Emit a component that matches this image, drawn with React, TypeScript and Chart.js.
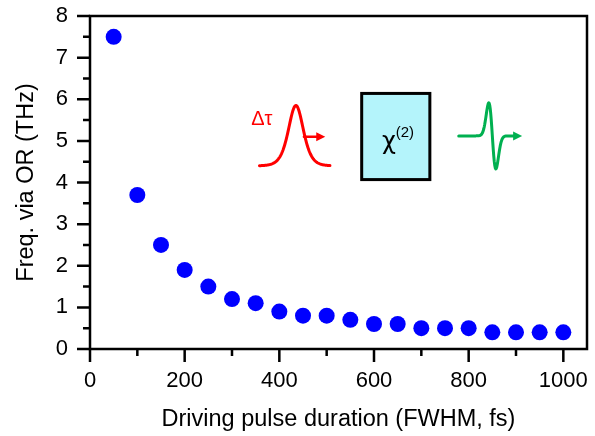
import React, { useEffect, useRef } from 'react';
import { Chart, registerables } from 'chart.js';

Chart.register(...registerables);

// Driving pulse duration (FWHM, fs)
const durations = [50, 100, 150, 200, 250, 300, 350, 400, 450, 500, 550, 600, 650, 700, 750, 800, 850, 900, 950, 1000];
// Frequency via optical rectification (THz)
const frequencies = [7.5, 3.7, 2.5, 1.9, 1.5, 1.2, 1.1, 0.9, 0.8, 0.8, 0.7, 0.6, 0.6, 0.5, 0.5, 0.5, 0.4, 0.4, 0.4, 0.4];

const xRange = [0, 1050];
const yRange = [0, 8];
const xTickValues = [0, 100, 200, 300, 400, 500, 600, 700, 800, 900, 1000];
const xLabelValues = [0, 200, 400, 600, 800, 1000];
const yTickValues = [0, 0.5, 1, 1.5, 2, 2.5, 3, 3.5, 4, 4.5, 5, 5.5, 6, 6.5, 7, 7.5, 8];
const yLabelValues = [0, 1, 2, 3, 4, 5, 6, 7, 8];

const xTitle = 'Driving pulse duration (FWHM, fs)';
const yTitle = 'Freq. via OR (THz)';
const pulseLabel = 'Δτ';
const chiLabel = 'χ';
const chiSup = '(2)';

const FONT = "'Liberation Sans', Arial, sans-serif";

const framePlugin = {
  id: 'frameTicks',
  afterDraw(chart: any) {
    const { ctx, chartArea: a, scales } = chart;
    const xs = scales.x;
    const ys = scales.y;
    ctx.save();
    ctx.strokeStyle = '#000';
    ctx.lineWidth = 2.5;
    ctx.lineCap = 'butt';
    ctx.beginPath();
    xTickValues.forEach((v) => {
      const px = xs.getPixelForValue(v);
      const len = xLabelValues.includes(v) ? 13 : 7;
      ctx.moveTo(px, a.bottom);
      ctx.lineTo(px, a.bottom + len);
    });
    yTickValues.forEach((v) => {
      const py = ys.getPixelForValue(v);
      const len = yLabelValues.includes(v) ? 13 : 7;
      ctx.moveTo(a.left, py);
      ctx.lineTo(a.left - len, py);
    });
    ctx.stroke();
    ctx.strokeRect(a.left, a.top, a.right - a.left, a.bottom - a.top);
    ctx.restore();
  },
};

const insetPlugin = {
  id: 'inset',
  afterDatasetsDraw(chart: any) {
    const { ctx, scales } = chart;
    const X = (v: number) => scales.x.getPixelForValue(v);
    const Y = (v: number) => scales.y.getPixelForValue(v);
    ctx.save();
    ctx.lineJoin = 'round';
    ctx.lineCap = 'round';

    // red driving pulse
    const red = '#ff0000';
    const rc = X(435), rb = Y(4.4), rh = rb - Y(5.85);
    const rl = X(358), rr = X(507);
    ctx.strokeStyle = red;
    ctx.lineWidth = 3;
    ctx.beginPath();
    for (let px = rl; px <= rr; px += 0.5) {
      const u = (px - rc) / 10;
      const s = 1 / Math.cosh(u);
      const py = rb - rh * s * s;
      if (px === rl) ctx.moveTo(px, py); else ctx.lineTo(px, py);
    }
    ctx.stroke();
    const ay = Y(5.1);
    const ax0 = X(452), ax1 = X(497);
    ctx.lineWidth = 2.5;
    ctx.beginPath();
    ctx.moveTo(ax0, ay);
    ctx.lineTo(ax1 - 6, ay);
    ctx.stroke();
    ctx.fillStyle = red;
    ctx.beginPath();
    ctx.moveTo(ax1, ay);
    ctx.lineTo(ax1 - 9, ay - 4.5);
    ctx.lineTo(ax1 - 9, ay + 4.5);
    ctx.closePath();
    ctx.fill();
    ctx.font = `20px ${FONT}`;
    ctx.textAlign = 'center';
    ctx.textBaseline = 'middle';
    ctx.fillText(pulseLabel, X(363), Y(5.52));

    // crystal box
    const bx0 = X(574), bx1 = X(718), by0 = Y(6.14), by1 = Y(4.07);
    ctx.fillStyle = '#b4f4fb';
    ctx.fillRect(bx0, by0, bx1 - bx0, by1 - by0);
    ctx.strokeStyle = '#000';
    ctx.lineWidth = 3;
    ctx.lineJoin = 'miter';
    ctx.strokeRect(bx0, by0, bx1 - bx0, by1 - by0);
    ctx.fillStyle = '#000';
    ctx.textAlign = 'left';
    ctx.textBaseline = 'alphabetic';
    ctx.font = `24px 'DejaVu Sans', sans-serif`;
    ctx.fillText(chiLabel, X(617), Y(4.8));
    ctx.font = `15px ${FONT}`;
    ctx.fillText(chiSup, X(646), Y(5.09));

    // green THz single-cycle pulse
    const green = '#00b050';
    const gb = Y(5.12);
    const gc = X(850);
    const gs = 5;
    const gA = 77;
    const gl = X(779), gr = X(893);
    ctx.strokeStyle = green;
    ctx.lineWidth = 3;
    ctx.lineJoin = 'round';
    ctx.beginPath();
    for (let px = gl; px <= gr; px += 0.5) {
      const u = (px - gc) / gs;
      const py = gb + gA * u * Math.exp(-u * u);
      if (px === gl) ctx.moveTo(px, py); else ctx.lineTo(px, py);
    }
    const gt = X(913);
    ctx.lineTo(gt - 6, gb);
    ctx.stroke();
    ctx.fillStyle = green;
    ctx.beginPath();
    ctx.moveTo(gt, gb);
    ctx.lineTo(gt - 9, gb - 4.5);
    ctx.lineTo(gt - 9, gb + 4.5);
    ctx.closePath();
    ctx.fill();
    ctx.restore();
  },
};

export default function App() {
  const ref = useRef<HTMLCanvasElement>(null);
  useEffect(() => {
    const chart = new Chart(ref.current as HTMLCanvasElement, {
      type: 'scatter',
      data: {
        datasets: [
          {
            data: durations.map((x, i) => ({ x, y: frequencies[i] })),
            backgroundColor: '#0000ff',
            borderColor: '#0000ff',
            borderWidth: 0,
            pointRadius: 8,
            pointHoverRadius: 8,
          },
        ],
      },
      options: {
        responsive: false,
        animation: false,
        devicePixelRatio: 1,
        layout: { padding: { top: 16, right: 4, left: 0, bottom: 0 } },
        plugins: { legend: { display: false }, tooltip: { enabled: false } },
        scales: {
          x: {
            type: 'linear',
            min: xRange[0],
            max: xRange[1],
            afterBuildTicks: (s: any) => { s.ticks = xLabelValues.map((value) => ({ value })); },
            afterFit: (s: any) => {
              s.height = 87;
              s.paddingLeft = 0;
              s.paddingRight = 0;
              s.paddingTop = 0;
              s.paddingBottom = 0;
            },
            grid: { display: false, drawTicks: false },
            border: { display: false },
            ticks: {
              autoSkip: false,
              maxRotation: 0,
              minRotation: 0,
              padding: 19,
              color: '#000',
              font: { family: FONT, size: 22 },
              callback: (v: any) => String(v),
            },
            title: {
              display: true,
              text: xTitle,
              color: '#000',
              font: { family: FONT, size: 23.5 },
              padding: { top: 0, bottom: 2 },
            },
          },
          y: {
            type: 'linear',
            min: yRange[0],
            max: yRange[1],
            afterBuildTicks: (s: any) => { s.ticks = yLabelValues.map((value) => ({ value })); },
            afterFit: (s: any) => {
              s.width = 90;
              s.paddingLeft = 0;
              s.paddingRight = 0;
              s.paddingTop = 0;
              s.paddingBottom = 0;
            },
            grid: { display: false, drawTicks: false },
            border: { display: false },
            ticks: {
              autoSkip: false,
              padding: 22,
              color: '#000',
              font: { family: FONT, size: 22 },
              callback: (v: any) => String(v),
            },
            title: {
              display: true,
              text: yTitle,
              color: '#000',
              font: { family: FONT, size: 23.5 },
              padding: { top: 12, bottom: 0 },
            },
          },
        },
      },
      plugins: [insetPlugin, framePlugin],
    } as any);
    return () => chart.destroy();
  }, []);
  return (
    <div style={{ position: 'fixed', left: 0, top: 0, width: 595, height: 436, background: '#fff' }}>
      <canvas ref={ref} width={595} height={436} style={{ display: 'block' }} />
    </div>
  );
}
